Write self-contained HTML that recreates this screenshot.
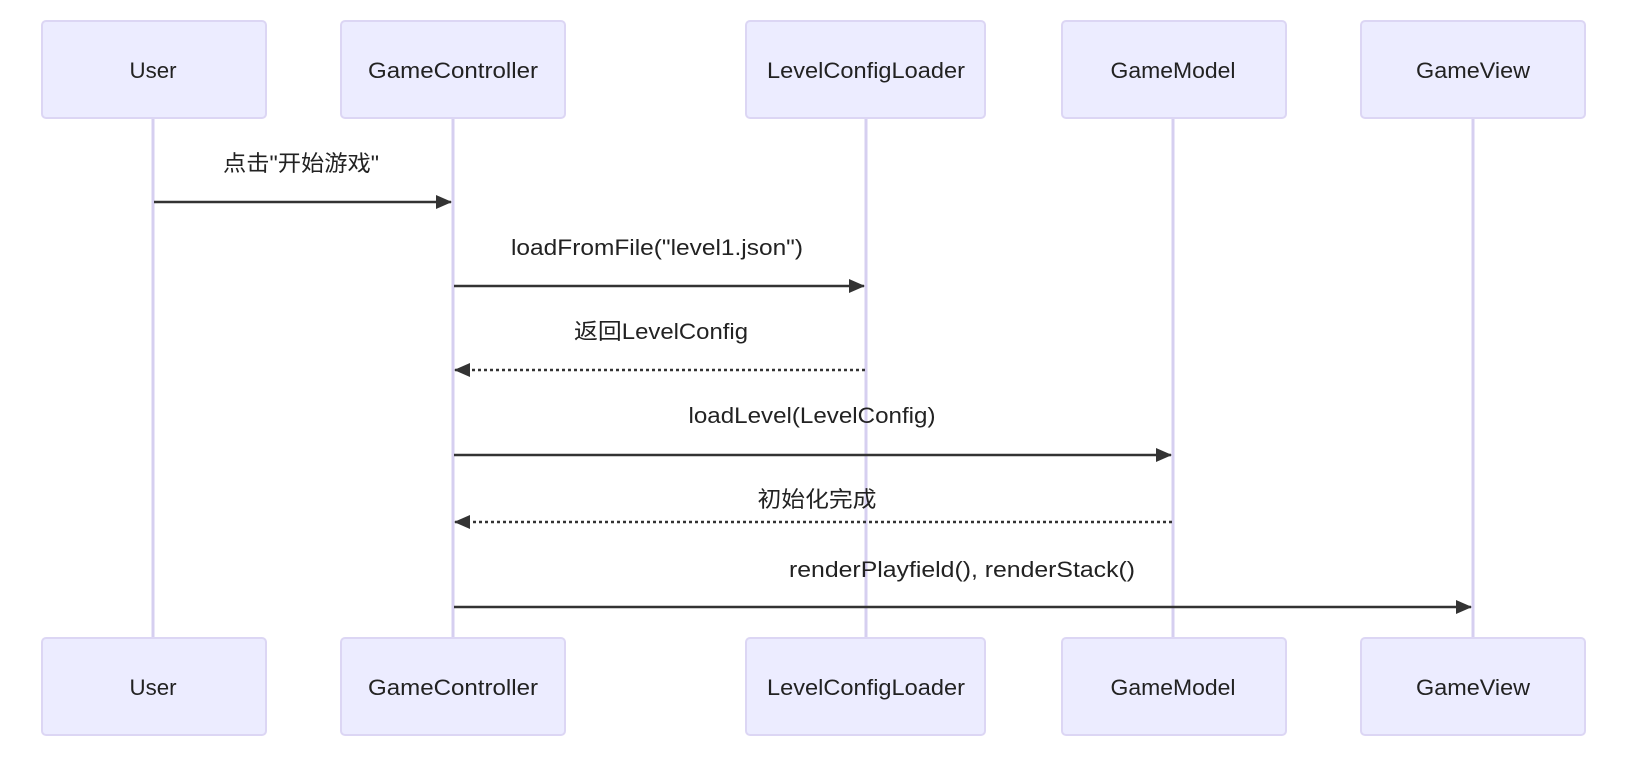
<!DOCTYPE html>
<html><head><meta charset="utf-8"><style>
html,body{margin:0;padding:0;background:#fff;}
svg text{font-family:"Liberation Sans","Noto Sans CJK SC",sans-serif;fill:#222;}
</style></head><body>
<svg width="1635" height="765" viewBox="0 0 1635 765" xmlns="http://www.w3.org/2000/svg">
<defs>
<marker id="ah" markerWidth="16" markerHeight="14" refX="15" refY="7" orient="auto" markerUnits="userSpaceOnUse">
<path d="M0,0 L16,7 L0,14 z" fill="#333"/>
</marker>
</defs>
<g stroke="#d6cff0" stroke-width="3">
<line x1="153" y1="118" x2="153" y2="638"/>
<line x1="453" y1="118" x2="453" y2="638"/>
<line x1="866" y1="118" x2="866" y2="638"/>
<line x1="1173" y1="118" x2="1173" y2="638"/>
<line x1="1473" y1="118" x2="1473" y2="638"/>
</g>
<g fill="#ececff" stroke="#dcd6f4" stroke-width="2">
<rect x="42" y="21" width="224" height="97" rx="4"/>
<rect x="341" y="21" width="224" height="97" rx="4"/>
<rect x="746" y="21" width="239" height="97" rx="4"/>
<rect x="1062" y="21" width="224" height="97" rx="4"/>
<rect x="1361" y="21" width="224" height="97" rx="4"/>
<rect x="42" y="638" width="224" height="97" rx="4"/>
<rect x="341" y="638" width="224" height="97" rx="4"/>
<rect x="746" y="638" width="239" height="97" rx="4"/>
<rect x="1062" y="638" width="224" height="97" rx="4"/>
<rect x="1361" y="638" width="224" height="97" rx="4"/>
</g>
<g font-size="22" text-anchor="middle">
<text x="153" y="78" textLength="47" lengthAdjust="spacingAndGlyphs">User</text>
<text x="453" y="78" textLength="170" lengthAdjust="spacingAndGlyphs">GameController</text>
<text x="866" y="78" textLength="198" lengthAdjust="spacingAndGlyphs">LevelConfigLoader</text>
<text x="1173" y="78" textLength="125" lengthAdjust="spacingAndGlyphs">GameModel</text>
<text x="1473" y="78" textLength="114" lengthAdjust="spacingAndGlyphs">GameView</text>
<text x="153" y="695" textLength="47" lengthAdjust="spacingAndGlyphs">User</text>
<text x="453" y="695" textLength="170" lengthAdjust="spacingAndGlyphs">GameController</text>
<text x="866" y="695" textLength="198" lengthAdjust="spacingAndGlyphs">LevelConfigLoader</text>
<text x="1173" y="695" textLength="125" lengthAdjust="spacingAndGlyphs">GameModel</text>
<text x="1473" y="695" textLength="114" lengthAdjust="spacingAndGlyphs">GameView</text>
</g>
<g font-size="22" text-anchor="middle">
<text x="301" y="171" textLength="156" lengthAdjust="spacingAndGlyphs">点击"开始游戏"</text>
<text x="657" y="255" textLength="292" lengthAdjust="spacingAndGlyphs">loadFromFile("level1.json")</text>
<text x="661" y="339" textLength="174" lengthAdjust="spacingAndGlyphs">返回LevelConfig</text>
<text x="812" y="423" textLength="247" lengthAdjust="spacingAndGlyphs">loadLevel(LevelConfig)</text>
<text x="817" y="507" textLength="119" lengthAdjust="spacingAndGlyphs">初始化完成</text>
<text x="962" y="577" textLength="346" lengthAdjust="spacingAndGlyphs">renderPlayfield(), renderStack()</text>
</g>
<g stroke="#333" stroke-width="2.5" fill="none">
<line x1="154" y1="202" x2="451" y2="202" marker-end="url(#ah)"/>
<line x1="454" y1="286" x2="864" y2="286" marker-end="url(#ah)"/>
<line x1="865" y1="370" x2="455" y2="370" stroke-dasharray="3,3" marker-end="url(#ah)"/>
<line x1="454" y1="455" x2="1171" y2="455" marker-end="url(#ah)"/>
<line x1="1172" y1="522" x2="455" y2="522" stroke-dasharray="3,3" marker-end="url(#ah)"/>
<line x1="454" y1="607" x2="1471" y2="607" marker-end="url(#ah)"/>
</g>
</svg>
</body></html>
